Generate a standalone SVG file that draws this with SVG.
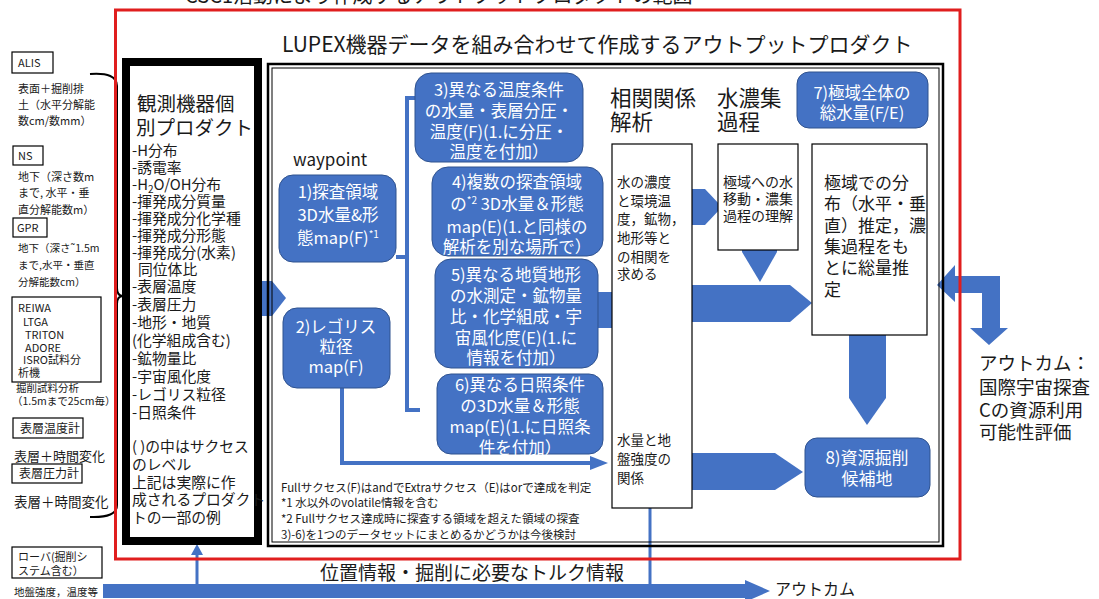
<svg xmlns="http://www.w3.org/2000/svg" width="1099" height="599" viewBox="0 0 1099 599">
<style>
text{font-family:"Noto Sans CJK JP","Noto Sans",sans-serif;fill:#1a1a1a}
.sm{font-size:11px}
.md{font-size:13.5px}
.lst{font-size:14.8px}
.bx{fill:#fff;stroke:#000;stroke-width:1.2}
.bl{fill:#4472C4;stroke:#2F528F;stroke-width:1}
.wt{fill:#fff;font-size:16.5px;text-anchor:middle}
.arr{fill:#4472C4}
.ln{fill:none;stroke:#4472C4;stroke-width:4}
.tl{fill:none;stroke:#4472C4;stroke-width:3}
</style>
<rect width="1099" height="599" fill="#fff"/>
<text x="185" y="3" style="font-size:20px">CSC1活動により作成するアウトプットプロダクトの範囲</text>

<g id="left-instruments">
<rect class="bx" x="12" y="52" width="41" height="21"/>
<text class="sm" x="18" y="66.5">ALIS</text>
<text class="sm" x="18" y="93">表面＋掘削排</text>
<text class="sm" x="18" y="109">土（水平分解能</text>
<text class="sm" x="18" y="125">数cm/数mm）</text>
<rect class="bx" x="13" y="146" width="30" height="19"/>
<text class="sm" x="18" y="159.5">NS</text>
<text class="sm" x="18" y="181">地下（深さ数m</text>
<text class="sm" x="18" y="197">まで, 水平・垂</text>
<text class="sm" x="18" y="214">直分解能数m）</text>
<rect class="bx" x="13" y="218" width="34" height="19"/>
<text class="sm" x="17" y="231.5">GPR</text>
<text x="18" y="252" style="font-size:10.5px">地下（深さ˜1.5m</text>
<text x="18" y="269" style="font-size:10.5px">まで,水平・垂直</text>
<text x="18" y="286" style="font-size:10.5px">分解能数cm）</text>
<rect class="bx" x="12" y="297" width="89" height="85"/>
<text class="sm" x="18" y="312">REIWA</text>
<text class="sm" x="23" y="325.5">LTGA</text>
<text class="sm" x="25" y="338.5">TRITON</text>
<text class="sm" x="25" y="351.5">ADORE</text>
<text class="sm" x="23" y="364">ISRO試料分</text>
<text class="sm" x="18" y="377">析機</text>
<text x="16" y="392" style="font-size:10.5px">掘削試料分析</text>
<text x="12" y="405" style="font-size:10.5px">（1.5mまで25cm毎）</text>
<rect class="bx" x="13" y="418" width="70" height="20"/>
<text x="20" y="432.5" style="font-size:12px">表層温度計</text>
<text x="14" y="461" style="font-size:13px">表層＋時間変化</text>
<rect class="bx" x="12" y="464" width="70" height="19"/>
<text x="19" y="478" style="font-size:12px">表層圧力計</text>
<text x="14" y="507" style="font-size:13.5px">表層＋時間変化</text>
<rect class="bx" x="12" y="547" width="90" height="31"/>
<text class="sm" x="18" y="560.5">ローバ(掘削シ</text>
<text class="sm" x="18" y="575">ステム含む）</text>
<text x="14" y="596" style="font-size:10.5px">地盤強度，温度等</text>
</g>

<g id="connectors">
<path d="M90 74 Q117 72 117 86 L117 288 Q117 296 123 296 Q117 296 117 304 L117 505 Q117 518 90 517" fill="none" stroke="#000" stroke-width="2"/>
<polygon class="arr" points="103,584 745,584 745,580 770,591 745,602 745,598 103,598"/>
<line class="tl" x1="197" y1="584" x2="197" y2="554"/>
<polygon class="arr" points="191,555 203,555 197,544"/>
<line class="tl" x1="650" y1="584" x2="650" y2="498"/>
<polygon class="arr" points="644,499 656,499 650,487"/>
<polygon class="arr" points="258,281 272,281 286,298 272,316 258,316"/>
<path class="ln" d="M396 257 L407 257 M420 98 L407 98 L407 410 L420 410"/>
<path class="ln" d="M342 388 L342 463 L592 463"/>
<polygon class="arr" points="590,456 608,463 590,470"/>
<polygon class="arr" points="598,292 620,292 643,310 620,328 598,328"/>
<polygon class="arr" points="683,189 705,189 722,207 705,225 683,225"/>
<polygon class="arr" points="742,228 777,228 777,252 760,282 742,252"/>
<polygon class="arr" points="692,285 790,285 812,303 790,322 692,322"/>
<polygon class="arr" points="849,335 886,335 886,398 867,425 849,398"/>
<polygon class="arr" points="692,453 775,453 803,472 775,490 692,490"/>
<polygon class="arr" points="937,285 955,265 955,276 1000,276 1000,328 1008,328 989,345 970,328 982,328 982,293 955,293 955,302"/>
</g>

<rect x="115.5" y="10" width="844.5" height="549" fill="none" stroke="#E01E1E" stroke-width="3"/>
<text x="282" y="52" style="font-size:21px">LUPEX機器データを組み合わせて作成するアウトプットプロダクト</text>

<g id="individual-products">
<rect x="126" y="62" width="132" height="479" fill="#fff" stroke="#000" stroke-width="8"/>
<text x="137" y="111" style="font-size:19.5px">観測機器個</text>
<text x="136" y="135" style="font-size:19.5px">別プロダクト</text>
<text class="lst" x="132" y="156">-H分布</text>
<text class="lst" x="132" y="173">-誘電率</text>
<text class="lst" x="132" y="190">-H<tspan style="font-size:10px" dy="3">2</tspan><tspan dy="-3">O/OH分布</tspan></text>
<text class="lst" x="132" y="207">-揮発成分質量</text>
<text class="lst" x="132" y="224">-揮発成分化学種</text>
<text class="lst" x="132" y="241">-揮発成分形態</text>
<text class="lst" x="132" y="258">-揮発成分(水素)</text>
<text class="lst" x="138" y="275">同位体比</text>
<text class="lst" x="132" y="292">-表層温度</text>
<text class="lst" x="132" y="310">-表層圧力</text>
<text class="lst" x="132" y="328">-地形・地質</text>
<text class="lst" x="132" y="346">(化学組成含む)</text>
<text class="lst" x="132" y="364">-鉱物量比</text>
<text class="lst" x="132" y="382">-宇宙風化度</text>
<text class="lst" x="132" y="400">-レゴリス粒径</text>
<text class="lst" x="132" y="418">-日照条件</text>
<text class="lst" x="132" y="452">( )の中はサクセス</text>
<text class="lst" x="132" y="470">のレベル</text>
<text class="lst" x="132" y="488">上記は実際に作</text>
<text class="lst" x="132" y="505">成されるプロダクト</text>
<text class="lst" x="132" y="523">トの一部の例</text>
</g>

<g id="output-frame">
<rect x="268" y="64" width="675" height="482" fill="none" stroke="#000" stroke-width="2.5"/>
<rect x="272" y="68" width="667" height="474" fill="none" stroke="#000" stroke-width="1"/>
<text x="293" y="166" style="font-size:17px">waypoint</text>
<text x="281" y="492" style="font-size:11.5px">Fullサクセス(F)はandでExtraサクセス（E)はorで達成を判定</text>
<text x="281" y="507" style="font-size:11.5px">*1 水以外のvolatile情報を含む</text>
<text x="281" y="523" style="font-size:11.5px">*2 Fullサクセス達成時に探査する領域を超えた領域の探査</text>
<text x="281" y="539" style="font-size:11.5px">3)-6)を1つのデータセットにまとめるかどうかは今後検討</text>
</g>

<g id="node1">
<rect class="bl" x="279" y="175" width="117" height="87" rx="14"/>
<text class="wt" x="338" y="198">1)探査領域</text>
<text class="wt" x="338" y="221">3D水量&amp;形</text>
<text class="wt" x="338" y="244">態map(F)<tspan style="font-size:10px" dy="-6">*1</tspan></text>
</g>
<g id="node2">
<rect class="bl" x="283" y="308" width="107" height="80" rx="14"/>
<text class="wt" x="336" y="333">2)レゴリス</text>
<text class="wt" x="336" y="353">粒径</text>
<text class="wt" x="336" y="373">map(F)</text>
</g>
<g id="node3">
<rect class="bl" x="415" y="73" width="168" height="89" rx="16"/>
<text class="wt" x="499" y="96">3)異なる温度条件</text>
<text class="wt" x="499" y="117">の水量・表層分圧・</text>
<text class="wt" x="499" y="138">温度(F)(1.に分圧・</text>
<text class="wt" x="499" y="158">温度を付加）</text>
</g>
<g id="node4">
<rect class="bl" x="432" y="167" width="171" height="89" rx="16"/>
<text class="wt" x="517" y="188">4)複数の探査領域</text>
<text class="wt" x="517" y="210">の<tspan style="font-size:10px" dy="-6">*2</tspan><tspan dy="6"> 3D水量＆形態</tspan></text>
<text class="wt" x="517" y="233">map(E)(1.と同様の</text>
<text class="wt" x="517" y="253">解析を別な場所で）</text>
</g>
<g id="node5">
<rect class="bl" x="435" y="259" width="163" height="109" rx="16"/>
<text class="wt" x="516" y="281">5)異なる地質地形</text>
<text class="wt" x="516" y="302">の水測定・鉱物量</text>
<text class="wt" x="516" y="323">比・化学組成・宇</text>
<text class="wt" x="516" y="344">宙風化度(E)(1.に</text>
<text class="wt" x="516" y="364">情報を付加）</text>
</g>
<g id="node6">
<rect class="bl" x="437" y="374" width="166" height="80" rx="14"/>
<text class="wt" x="520" y="391">6)異なる日照条件</text>
<text class="wt" x="520" y="412">の3D水量＆形態</text>
<text class="wt" x="520" y="433">map(E)(1.に日照条</text>
<text class="wt" x="520" y="454">件を付加）</text>
</g>

<g id="correlation">
<text x="610" y="106" style="font-size:21.5px">相関関係</text>
<text x="610" y="130" style="font-size:21.5px">解析</text>
<rect class="bx" x="612" y="144" width="80" height="364"/>
<text class="md" x="617" y="187">水の濃度</text>
<text class="md" x="617" y="206">と環境温</text>
<text class="md" x="617" y="224">度，鉱物，</text>
<text class="md" x="617" y="243">地形等と</text>
<text class="md" x="617" y="262">の相関を</text>
<text class="md" x="617" y="279">求める</text>
<text class="md" x="617" y="445">水量と地</text>
<text class="md" x="617" y="464">盤強度の</text>
<text class="md" x="617" y="483">関係</text>
</g>

<g id="concentration">
<text x="717" y="106" style="font-size:21.5px">水濃集</text>
<text x="717" y="130" style="font-size:21.5px">過程</text>
<rect class="bx" x="718" y="144" width="80" height="106"/>
<text x="723" y="187" style="font-size:14px">極域への水</text>
<text x="723" y="204" style="font-size:14px">移動・濃集</text>
<text x="723" y="221" style="font-size:14px">過程の理解</text>
</g>

<g id="node7">
<rect class="bl" x="797" y="72" width="131" height="56" rx="12"/>
<text class="wt" x="862" y="99">7)極域全体の</text>
<text class="wt" x="862" y="119">総水量(F/E)</text>
</g>

<g id="polar-estimate">
<rect class="bx" x="812" y="144" width="115" height="191"/>
<text x="824" y="189" style="font-size:17px">極域での分</text>
<text x="824" y="210" style="font-size:17px">布（水平・垂</text>
<text x="824" y="232" style="font-size:17px">直）推定，濃</text>
<text x="824" y="253" style="font-size:17px">集過程をも</text>
<text x="824" y="274" style="font-size:17px">とに総量推</text>
<text x="824" y="296" style="font-size:17px">定</text>
</g>

<g id="node8">
<rect class="bl" x="805" y="438" width="125" height="59" rx="12"/>
<text class="wt" x="867" y="464" style="font-size:17px">8)資源掘削</text>
<text class="wt" x="867" y="485" style="font-size:17px">候補地</text>
</g>

<g id="outcome">
<text x="979" y="370" style="font-size:18.5px">アウトカム：</text>
<text x="979" y="394" style="font-size:18.5px">国際宇宙探査</text>
<text x="979" y="417" style="font-size:18.5px">Cの資源利用</text>
<text x="979" y="439" style="font-size:18.5px">可能性評価</text>
<text x="775" y="595" style="font-size:16px">アウトカム</text>
<text x="320" y="580" style="font-size:19px">位置情報・掘削に必要なトルク情報</text>
</g>
</svg>
